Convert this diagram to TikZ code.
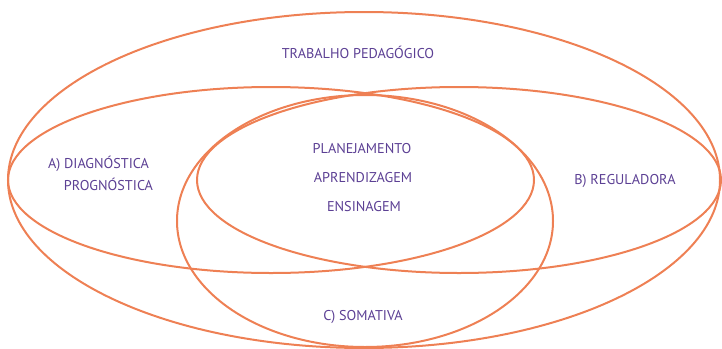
\documentclass[tikz,border=0pt]{standalone}
\usepackage{fontspec}
\setmainfont{PT Sans}
\definecolor{ringc}{RGB}{238,128,84}
\definecolor{txtc}{RGB}{92,64,148}
\tikzset{
  ring/.style={draw=ringc, line width=2pt},
  lbl/.style={text=txtc, font=\fontsize{14.2}{17}\selectfont, inner sep=0pt},
}
\begin{document}
\begin{tikzpicture}[x=1pt,y=-1pt]
\useasboundingbox (0,0) rectangle (722,348);
% outer ellipse
\draw[ring] (364,180) ellipse [x radius=356, y radius=168];
% A ellipse
\draw[ring] (271,180) ellipse [x radius=263, y radius=93];
% B ellipse
\draw[ring] (459,180) ellipse [x radius=262, y radius=93];
% C ellipse
\draw[ring] (365,221) ellipse [x radius=188, y radius=126];
% labels
\node[lbl] (trab) at (358,52) {TRABALHO PEDAGÓGICO};
\node[lbl] (diag) at (98.5,164) {A) DIAGNÓSTICA};
\node[lbl] (prog) at (108.5,184) {PROGNÓSTICA};
\node[lbl] (reg) at (625,181) {B) REGULADORA};
\node[lbl] (plan) at (362,149) {PLANEJAMENTO};
\node[lbl] (apr) at (363,178) {APRENDIZAGEM};
\node[lbl] (ens) at (364,207) {ENSINAGEM};
\node[lbl] (som) at (363,317) {C) SOMATIVA};
\end{tikzpicture}
\end{document}
